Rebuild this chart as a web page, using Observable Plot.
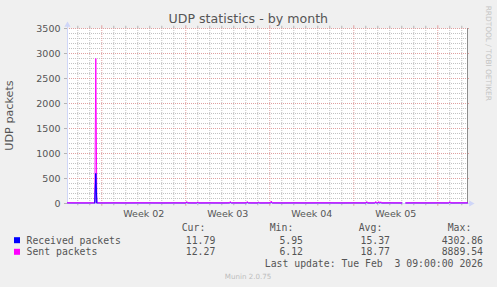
<!DOCTYPE html>
<html><head><meta charset="utf-8">
<script src="https://cdn.jsdelivr.net/npm/d3@7"></script>
<script src="https://cdn.jsdelivr.net/npm/@observablehq/plot@0.6"></script>
<style>
html,body{margin:0;padding:0;background:#f0f0f0;}
#chart{position:relative;width:497px;height:287px;overflow:hidden;}
svg{display:block;}
</style></head><body><div id="chart"></div>
<script>
const title = "UDP statistics - by month";
const yLabel = "UDP packets";
const watermark = "RRDTOOL / TOBI OETIKER";
const footer = "Munin 2.0.75";
const lastUpdate = "Last update: Tue Feb  3 09:00:00 2026";

const times = [
  "2026-01-01T03:24Z","2026-01-02T00:00Z","2026-01-03T00:00Z","2026-01-03T10:00Z","2026-01-03T12:00Z","2026-01-03T14:00Z",
  "2026-01-04T00:00Z","2026-01-05T00:00Z","2026-01-06T00:00Z","2026-01-07T00:00Z","2026-01-08T00:00Z","2026-01-09T00:00Z","2026-01-10T00:00Z",
  "2026-01-11T00:00Z","2026-01-11T02:00Z","2026-01-11T04:00Z","2026-01-11T22:00Z","2026-01-12T00:00Z","2026-01-12T02:00Z","2026-01-13T00:00Z",
  "2026-01-14T00:00Z","2026-01-14T15:00Z","2026-01-14T17:00Z","2026-01-14T19:00Z","2026-01-15T00:00Z",
  "2026-01-16T01:00Z","2026-01-16T03:00Z","2026-01-16T05:00Z",
  "2026-01-17T00:00Z","2026-01-17T02:00Z","2026-01-17T04:00Z",
  "2026-01-18T01:00Z","2026-01-18T03:00Z","2026-01-18T05:00Z",
  "2026-01-19T00:00Z","2026-01-20T00:00Z","2026-01-21T00:00Z","2026-01-22T00:00Z","2026-01-23T00:00Z","2026-01-24T00:00Z","2026-01-25T00:00Z",
  "2026-01-26T00:00Z","2026-01-26T02:00Z","2026-01-26T04:00Z","2026-01-26T18:00Z","2026-01-26T20:00Z","2026-01-26T22:00Z","2026-01-27T00:00Z","2026-01-27T02:00Z","2026-01-27T04:00Z","2026-01-27T06:00Z","2026-01-27T08:00Z",
  "2026-01-28T00:00Z","2026-01-29T00:00Z","2026-01-29T02:00Z","2026-01-29T06:00Z","2026-01-29T08:00Z",
  "2026-01-30T00:00Z","2026-01-31T00:00Z","2026-02-01T00:00Z","2026-02-01T22:00Z","2026-02-02T00:00Z","2026-02-02T02:00Z","2026-02-03T00:00Z","2026-02-03T11:24Z"
];
const received = [
  12,11,11,12,600,12,
  11,12,11,12,12,11,12,
  11,20,12,11,18,11,12,
  11,12,20,12,12,
  12,20,12,
  11,16,11,
  12,25,12,
  11,12,11,12,12,11,12,
  11,20,11,11,20,11,11,20,11,18,11,
  12,11,null,null,11,
  12,11,12,11,20,11,12,12
];
const sent = [
  14,13,12,13,2900,14,
  12,13,12,14,13,12,13,
  12,40,13,12,35,12,13,
  12,13,40,13,13,
  13,40,13,
  12,30,12,
  13,50,13,
  12,13,12,14,13,12,13,
  12,40,12,12,40,12,12,40,12,35,12,
  13,12,null,null,12,
  13,12,13,12,40,12,13,12
];
const spikeIdx = [3, 4, 5];

const yTicks = [0, 500, 1000, 1500, 2000, 2500, 3000, 3500];
const weekStarts = ["2026-01-04T00:00Z","2026-01-11T00:00Z","2026-01-18T00:00Z","2026-01-25T00:00Z","2026-02-01T00:00Z"];
const weekLabels = ["Week 02","Week 03","Week 04","Week 05"];
const weekLabelTimes = ["2026-01-07T12:00Z","2026-01-14T12:00Z","2026-01-21T12:00Z","2026-01-28T12:00Z"];

const seriesNames = ["Received packets","Sent packets"];
const seriesColors = ["#0000ff","#ff00ff"];
const statHeaders = ["Cur:","Min:","Avg:","Max:"];
const receivedStats = ["11.79","5.95","15.37","4302.86"];
const sentStats = ["12.27","6.12","18.77","8889.54"];

const start = new Date("2026-01-01T03:24Z");
const end = new Date("2026-02-03T11:24Z");
const H = 3600e3;

const rows = times.map((t, i) => ({t: new Date(t), received: received[i], sent: sent[i]}));
const spikeRows = spikeIdx.map(i => rows[i]);
const weeks = weekStarts.map(d => new Date(d));
const days = d3.utcDay.range(d3.utcDay.ceil(start), end).filter(d => !weeks.some(w => +w === +d));
const yMinor = d3.range(100, 3500, 100).filter(v => v % 500 !== 0);
const labelTimes = weekLabelTimes.map(d => new Date(d));

const minorC = "#c2c2c2", majorC = "#e0a0a0", axisC = "#cfd6f8", tickC = "#b4b4b4";

const chart = Plot.plot({
  width: 497, height: 287,
  marginLeft: 67, marginRight: 30, marginTop: 28, marginBottom: 84,
  style: {background: "transparent", fontFamily: "DejaVu Sans", fontSize: "9.5px", color: "#555", overflow: "visible"},
  x: {type: "utc", domain: [start, end]},
  y: {domain: [0, 3500]},
  marks: [
    Plot.frame({fill: "#ffffff", stroke: "none"}),
    Plot.ruleY(yMinor, {stroke: minorC, strokeDasharray: "1,1"}),
    Plot.ruleX(days, {stroke: minorC, strokeDasharray: "1,1"}),
    Plot.ruleY(yTicks.filter(v => v > 0), {stroke: majorC, strokeDasharray: "1,1"}),
    Plot.ruleX(weeks, {stroke: majorC, strokeDasharray: "1,1"}),
    // small ticks at frame edges
    Plot.ruleX(days, {y1: () => 0, y2: () => -45, stroke: tickC}),
    Plot.ruleX(days, {y1: () => 3500, y2: () => 3545, stroke: tickC}),
    Plot.ruleX(weeks, {y1: () => 0, y2: () => -55, stroke: majorC}),
    Plot.ruleX(weeks, {y1: () => 3500, y2: () => 3555, stroke: majorC}),
    Plot.ruleY(yTicks, {x1: () => new Date(+start - 6 * H), x2: () => start, stroke: tickC}),
    Plot.ruleY(yTicks.filter(v => v > 0), {x1: () => end, x2: () => new Date(+end + 4 * H), stroke: majorC}),
    // right frame line
    Plot.ruleX([end], {y1: () => 0, y2: () => 3500, stroke: "#8c8c8c"}),
    // axes (lavender) with arrows
    Plot.ruleX([start], {y1: () => 0, y2: () => 3620, stroke: axisC}),
    Plot.ruleY([0], {x1: () => start, x2: () => new Date(+end + 6 * H), stroke: axisC}),
    Plot.dot([start], {x: d => d, y: () => 3570, symbol: "triangle", r: 2.3, fill: axisC, stroke: "none"}),
    Plot.dot([end], {x: d => new Date(+d + 7 * H), y: () => 0, symbol: "triangle", r: 2.3, rotate: 90, fill: axisC, stroke: "none"}),
    // series
    Plot.line(rows, {x: "t", y: "received", stroke: seriesColors[0], strokeWidth: 1}),
    Plot.line(rows, {x: "t", y: "sent", stroke: seriesColors[1], strokeWidth: 1}),
    Plot.line(spikeRows, {x: "t", y: "received", stroke: seriesColors[0], strokeWidth: 1}),
    // axes labels
    Plot.axisY({ticks: yTicks, tickFormat: d => String(d), tickSize: 0, tickPadding: 7, label: null, fontSize: 9.5}),
    Plot.axisX({ticks: labelTimes, tickSize: 0, tickPadding: 7, label: null, fontSize: 9.5,
      tickFormat: d => weekLabels[labelTimes.findIndex(t => +t === +d)]})
  ]
});
document.getElementById("chart").appendChild(chart);

const svg = d3.select(chart);
const txt = (x, y, s, o = {}) => {
  const t = svg.append("text").attr("x", x).attr("y", y).text(s)
    .attr("font-family", o.family || "DejaVu Sans").attr("font-size", o.size || 9.5)
    .attr("fill", o.fill || "#555").attr("text-anchor", o.anchor || "start")
    .style("white-space", "pre");
  if (o.transform) t.attr("transform", o.transform);
  return t;
};
txt(248.3, 23, title, {size: 12.6, anchor: "middle"});
txt(0, 0, yLabel, {size: 11.2, anchor: "middle", transform: "translate(13,115.5) rotate(-90)"});
txt(0, 0, watermark, {size: 7.4, anchor: "middle", fill: "#c4c4c4", transform: "translate(485.6,53.3) rotate(90)"});
txt(248, 279, footer, {size: 7.1, anchor: "middle", fill: "#bdbdbd"});

const mono = {family: "DejaVu Sans Mono", size: 9.8};
const headerEnds = [205.3, 293.3, 382.3, 471.3];
const valueEnds = [215.3, 303, 390, 483];
statHeaders.forEach((h, i) => txt(headerEnds[i], 231, h, {...mono, anchor: "end"}));
const rowY = [243.7, 255.3];
[receivedStats, sentStats].forEach((vals, r) => {
  svg.append("rect").attr("x", 14).attr("y", rowY[r] - 6.5).attr("width", 6).attr("height", 6).attr("fill", seriesColors[r]);
  txt(26.5, rowY[r], seriesNames[r], mono);
  vals.forEach((v, i) => txt(valueEnds[i], rowY[r], v, {...mono, anchor: "end"}));
});
txt(483, 266.7, lastUpdate, {...mono, anchor: "end"});
</script></body></html>
